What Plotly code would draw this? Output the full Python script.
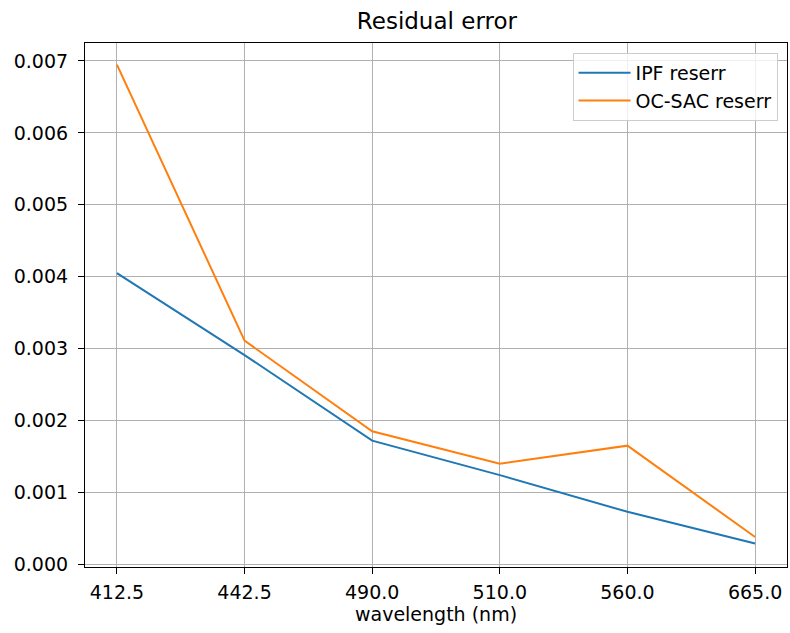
import plotly.graph_objects as go

wavelengths = ["412.5", "442.5", "490.0", "510.0", "560.0", "665.0"]
ipf_reserr = [0.00405, 0.00291, 0.00172, 0.00124, 0.00073, 0.00029]
ocsac_reserr = [0.00695, 0.00311, 0.00185, 0.00140, 0.00165, 0.00038]

font_family = "DejaVu Sans"
tick_size = 19

fig = go.Figure()
fig.add_trace(go.Scatter(x=wavelengths, y=ipf_reserr, mode="lines", name="IPF reserr",
                         line=dict(color="#1f77b4", width=2)))
fig.add_trace(go.Scatter(x=wavelengths, y=ocsac_reserr, mode="lines", name="OC-SAC reserr",
                         line=dict(color="#ff7f0e", width=2)))

axis_common = dict(showline=True, mirror=True, linecolor="black", linewidth=1.2,
                   ticks="outside", ticklen=6, tickcolor="black", tickwidth=1.2,
                   showgrid=True, gridcolor="#b0b0b0", gridwidth=1, zeroline=False,
                   automargin=False,
                   tickfont=dict(size=tick_size, color="black", family=font_family))

fig.update_xaxes(type="category", range=[-0.25, 5.25], ticklabelstandoff=2,
                 title=dict(text="wavelength (nm)", font=dict(size=tick_size, color="black", family=font_family), standoff=2),
                 **axis_common)
fig.update_yaxes(range=[-0.0000375, 0.00725], dtick=0.001, tick0=0, tickformat=".3f",
                 ticklabelstandoff=6,
                 **axis_common)

fig.update_layout(
    width=790, height=633,
    margin=dict(l=85, r=3, t=43, b=66),
    paper_bgcolor="white", plot_bgcolor="white",
    font=dict(family=font_family, color="black"),
    title=dict(text="Residual error", x=0.553, xanchor="center", y=0.967, yanchor="middle",
               font=dict(size=23, color="black", family=font_family)),
    legend=dict(x=0.9865, xanchor="right", y=0.981, yanchor="top", itemwidth=52,
                bgcolor="rgba(255,255,255,0.8)", bordercolor="#cccccc", borderwidth=1,
                font=dict(size=tick_size, color="black", family=font_family)),
    showlegend=True,
)

fig.write_html("out.html", config={"displayModeBar": False},
               post_script="document.body.style.margin='0';document.body.style.overflow='hidden';")
